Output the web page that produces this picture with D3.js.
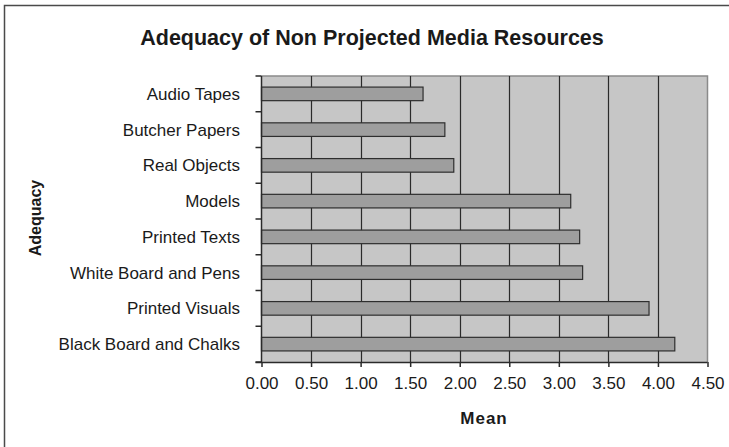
<!DOCTYPE html>
<html>
<head>
<meta charset="utf-8">
<script src="https://cdn.jsdelivr.net/npm/d3@7"></script>
<style>
  html, body { margin: 0; padding: 0; background: #fff; }
  svg { display: block; font-family: Arial, "Liberation Sans", sans-serif; }
</style>
</head>
<body>
<svg id="chart" width="729" height="447"></svg>
<script>
// Mean adequacy ratings of non-projected media resources
const categories = [
  "Audio Tapes",
  "Butcher Papers",
  "Real Objects",
  "Models",
  "Printed Texts",
  "White Board and Pens",
  "Printed Visuals",
  "Black Board and Chalks"
];
const means = [1.63, 1.85, 1.94, 3.12, 3.21, 3.24, 3.91, 4.17];
const xTicks = [0, 0.5, 1, 1.5, 2, 2.5, 3, 3.5, 4, 4.5];

const svg = d3.select("#chart");

// outer chart frame (runs off the right and bottom edges)
svg.append("rect")
  .attr("x", 4.5).attr("y", 5.5)
  .attr("width", 800).attr("height", 500)
  .attr("fill", "#fff")
  .attr("stroke", "#4a4a4a")
  .attr("stroke-width", 1.5);

const plot = { left: 261.5, right: 707.5, top: 76, bottom: 362 };

const x = d3.scaleLinear().domain([0, 4.5]).range([plot.left, plot.right]);
const y = d3.scaleBand().domain(categories).range([plot.top, plot.bottom]).paddingInner(0.62).paddingOuter(0.31);

// plot background
svg.append("rect")
  .attr("x", plot.left).attr("y", plot.top)
  .attr("width", plot.right - plot.left).attr("height", plot.bottom - plot.top)
  .attr("fill", "#c6c6c6");

// top and right border of the plot area
svg.append("path")
  .attr("d", `M${plot.left},${plot.top}H${plot.right}V${plot.bottom}`)
  .attr("fill", "none").attr("stroke", "#8a8a8a").attr("stroke-width", 1.5);

// vertical gridlines
svg.append("g").selectAll("line")
  .data(xTicks.filter(d => d > 0 && d < 4.5))
  .join("line")
  .attr("x1", d => Math.round(x(d)) + 0.5).attr("x2", d => Math.round(x(d)) + 0.5)
  .attr("y1", plot.top).attr("y2", plot.bottom)
  .attr("stroke", "#2a2a2a").attr("stroke-width", 1.2);

// bars
svg.append("g").selectAll("rect")
  .data(categories)
  .join("rect")
  .attr("x", x(0))
  .attr("y", d => y(d))
  .attr("width", (d, i) => x(means[i]) - x(0))
  .attr("height", y.bandwidth())
  .attr("fill", "#9e9e9e")
  .attr("stroke", "#2e2e2e")
  .attr("stroke-width", 1.2);

// category axis (ticks at band boundaries)
const yAxis = svg.append("g");
yAxis.append("line")
  .attr("x1", plot.left).attr("x2", plot.left)
  .attr("y1", plot.top).attr("y2", plot.bottom)
  .attr("stroke", "#2a2a2a").attr("stroke-width", 1.5);
const bounds = d3.range(categories.length + 1).map(i => plot.top + i * (plot.bottom - plot.top) / categories.length);
yAxis.selectAll("line.tick")
  .data(bounds)
  .join("line")
  .attr("class", "tick")
  .attr("x1", plot.left - 6).attr("x2", plot.left)
  .attr("y1", d => d).attr("y2", d => d)
  .attr("stroke", "#2a2a2a").attr("stroke-width", 1.5);
yAxis.selectAll("text")
  .data(categories)
  .join("text")
  .attr("x", 240)
  .attr("y", d => y(d) + y.bandwidth() / 2)
  .attr("dy", "0.36em")
  .attr("text-anchor", "end")
  .attr("font-size", 17)
  .attr("fill", "#1a1a1a")
  .text(d => d);

// value axis
const xAxis = d3.axisBottom(x)
  .tickValues(xTicks)
  .tickFormat(d3.format(".2f"))
  .tickSize(5)
  .tickPadding(10)
  .tickSizeOuter(0);
const gx = svg.append("g")
  .attr("transform", `translate(0,${plot.bottom})`)
  .call(xAxis);
gx.select(".domain").attr("stroke", "#2a2a2a").attr("stroke-width", 1.5)
  .attr("d", `M${plot.left - 6},0.5H${plot.right}`);
gx.selectAll(".tick line").attr("stroke", "#2a2a2a").attr("stroke-width", 1.5);
gx.selectAll(".tick text")
  .attr("font-size", 17)
  .attr("font-family", "Arial, 'Liberation Sans', sans-serif")
  .attr("fill", "#1a1a1a");

// titles
svg.append("text")
  .attr("x", 372).attr("y", 45)
  .attr("text-anchor", "middle")
  .attr("font-size", 21.5).attr("font-weight", "bold")
  .attr("fill", "#1a1a1a")
  .text("Adequacy of Non Projected Media Resources");

svg.append("text")
  .attr("x", 484).attr("y", 424)
  .attr("text-anchor", "middle")
  .attr("font-size", 17).attr("font-weight", "bold")
  .attr("letter-spacing", 1)
  .attr("fill", "#1a1a1a")
  .text("Mean");

svg.append("text")
  .attr("transform", "translate(41,218) rotate(-90)")
  .attr("text-anchor", "middle")
  .attr("font-size", 16).attr("font-weight", "bold")
  .attr("fill", "#1a1a1a")
  .text("Adequacy");
</script>
</body>
</html>
